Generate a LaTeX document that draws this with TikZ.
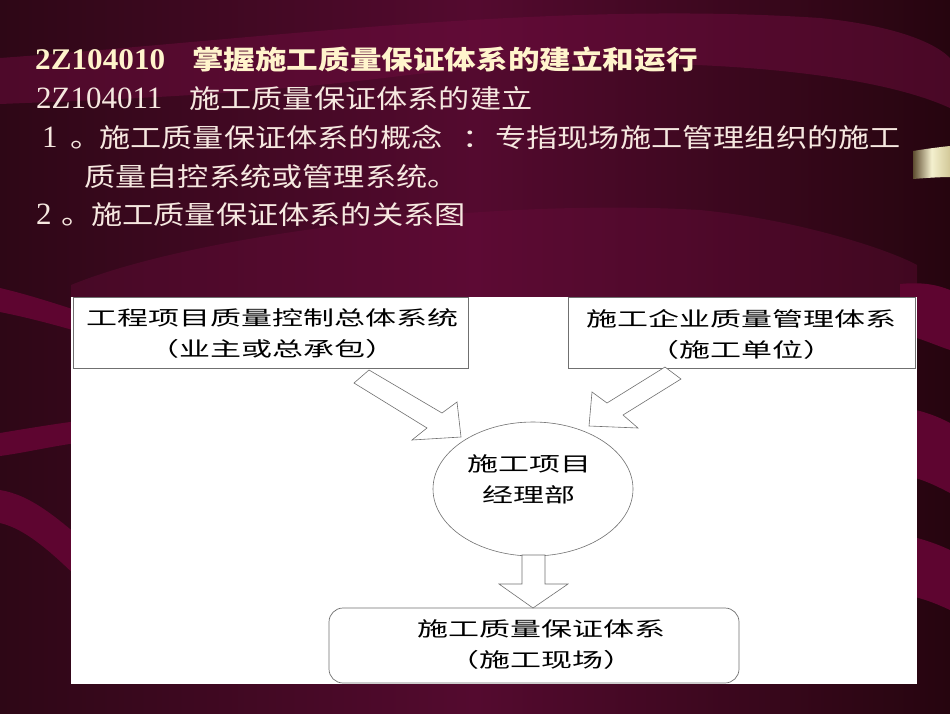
\documentclass[tikz,border=0pt]{standalone}
\usepackage{fontspec}
\setmainfont{Liberation Serif}
\newfontfamily\cjkbody[FakeStretch=1.2]{Noto Sans CJK SC}
\newfontfamily\cjktitle[FakeStretch=1.215]{Noto Sans CJK SC}
\newfontfamily\cjkpanel[FakeStretch=1.55]{Noto Sans CJK SC}
\newfontfamily\latintitle[FakeStretch=1.04]{Liberation Serif}
\usetikzlibrary{shapes.geometric}
\definecolor{bgdark}{HTML}{26050F}
\definecolor{bgmid}{HTML}{540A2F}
\definecolor{bgleft}{HTML}{2E0716}
\definecolor{bandcol}{HTML}{6E0C3E}
\definecolor{stripecol}{HTML}{5E0530}
\definecolor{titlecol}{HTML}{FFF4CC}
\definecolor{bodycol}{HTML}{F6E8E0}
\definecolor{linegray}{HTML}{707070}
\definecolor{tabdark}{HTML}{5E4C30}
\definecolor{tablight}{HTML}{F4F0CE}
\definecolor{tabright}{HTML}{D2C898}
\tikzset{
  ttl/.style={anchor=base west, inner sep=0pt, text=titlecol},
  bod/.style={anchor=base west, inner sep=0pt, text=bodycol},
  ptxt/.style={inner sep=0pt, text=black, align=center,
    font=\cjkpanel\fontsize{20}{31}\selectfont},
  box/.style={draw=linegray, line width=0.7pt, fill=white, inner sep=0pt},
  blockarrow/.style={draw=linegray, line width=0.6pt, fill=white, line join=miter},
  band/.style={fill=bandcol, fill opacity=0.5},
  stripe/.style={fill=stripecol}
}
\begin{document}
\begin{tikzpicture}[x=1pt,y=-1pt]
\useasboundingbox (0,0) rectangle (950,713);
% background
\shade[left color=bgleft, right color=bgdark, middle color=bgmid] (0,0) rectangle (950,713);
% soft bands in the upper area
\path[band] (0,58) .. controls (250,40) and (550,0) .. (820,18) .. controls (880,24) and (930,38) .. (950,58)
  -- (950,108) .. controls (850,62) and (600,52) .. (400,76) .. controls (250,95) and (100,100) .. (0,104) -- cycle;
\path[band, fill opacity=0.35] (71,297) -- (71,285) .. controls (200,232) and (500,198) .. (700,210) .. controls (800,220) and (890,250) .. (917,265)
  -- (917,297) -- cycle;
% stripes in the left margin
\path[stripe] (0,288) .. controls (30,295) and (60,305) .. (100,318) -- (100,338) .. controls (60,326) and (30,318) .. (0,312) -- cycle;
\path[stripe] (0,433) .. controls (30,428) and (60,423) .. (100,418) -- (100,440) .. controls (60,444) and (30,452) .. (0,456) -- cycle;
\path[stripe] (0,490) .. controls (30,495) and (55,515) .. (100,555) -- (100,600) .. controls (60,560) and (30,530) .. (0,523) -- cycle;
% stripes in the right margin
\path[stripe] (900,284) .. controls (920,282) and (935,284) .. (950,290) -- (950,350) .. controls (935,345) and (920,338) .. (900,333) -- cycle;
\path[stripe] (900,407) .. controls (920,410) and (935,415) .. (950,423) -- (950,493) .. controls (935,485) and (920,478) .. (900,474) -- cycle;
\path[stripe] (900,534) .. controls (920,538) and (935,543) .. (950,550) -- (950,610) .. controls (935,603) and (920,597) .. (900,594) -- cycle;
% gold tab
\shade[left color=tabdark, right color=tabright, middle color=tablight]
  (913,151) .. controls (925,149) and (940,147) .. (950,146) -- (950,177) .. controls (940,177) and (925,178) .. (913,179) -- cycle;
% title text
\node[ttl, font=\latintitle\bfseries\fontsize{30}{34}\selectfont] (t1a) at (35,69) {2Z104010};
\node[ttl, font=\cjktitle\bfseries\fontsize{26}{30}\selectfont] (t1b) at (192,69) {掌握施工质量保证体系的建立和运行};
\node[bod, font=\fontsize{31}{34}\selectfont] (t2a) at (36,108) {2Z104011};
\node[bod, font=\cjkbody\fontsize{26}{30}\selectfont] (t2b) at (189,108) {施工质量保证体系的建立};
\node[bod, font=\fontsize{31}{34}\selectfont] (t3a) at (42,147) {1};
\node[bod, font=\cjkbody\fontsize{26}{30}\selectfont] (t3b) at (70,147) {。};
\node[bod, font=\cjkbody\fontsize{26}{30}\selectfont] (t3c) at (99,147) {施工质量保证体系的概念};
\node[bod, font=\cjkbody\fontsize{26}{30}\selectfont] (t3d) at (462,147) {：};
\node[bod, font=\cjkbody\fontsize{26}{30}\selectfont] (t3e) at (495,147) {专指现场施工管理组织的施工};
\node[bod, font=\cjkbody\fontsize{26}{30}\selectfont] (t4) at (84,186) {质量自控系统或管理系统。};
\node[bod, font=\fontsize{31}{34}\selectfont] (t5a) at (36,224) {2};
\node[bod, font=\cjkbody\fontsize{26}{30}\selectfont] (t5b) at (61,224) {。};
\node[bod, font=\cjkbody\fontsize{26}{30}\selectfont] (t5c) at (91,224) {施工质量保证体系的关系图};
% white panel
\fill[white] (71,297) rectangle (917,684);
% boxes
\node[box, minimum width=395pt, minimum height=71pt] (lb) at (270.5,332.5) {};
\node[ptxt] (lbt) at (272,334) {工程项目质量控制总体系统\\（业主或总承包）};
\node[box, minimum width=347pt, minimum height=71pt] (rb) at (741.5,332.5) {};
\node[ptxt] (rbt) at (741,334) {施工企业质量管理体系\\（施工单位）};
\node[draw=linegray, line width=0.6pt, ellipse, minimum width=200pt, minimum height=134pt, inner sep=0pt] (pm) at (533,489) {};
\node[ptxt] (pmt) at (529,479) {施工项目\\经理部};
\node[box, rounded corners=14pt, minimum width=410pt, minimum height=75pt] (qb) at (534,645.5) {};
\node[ptxt] (qbt) at (541,645) {施工质量保证体系\\（施工现场）};
% block arrows
\draw[blockarrow] (354,383) -- (369,370) -- (442,413) -- (457,402) -- (461,437) -- (412,440) -- (427,428) -- cycle;
\draw[blockarrow] (665,367) -- (681,379) -- (623,415) -- (638,428) -- (589,426) -- (592,392) -- (607,403) -- cycle;
\draw[blockarrow] (522,555) -- (545,555) -- (545,584) -- (568,584) -- (533,608) -- (499,584) -- (522,584) -- cycle;
\end{tikzpicture}
\end{document}
